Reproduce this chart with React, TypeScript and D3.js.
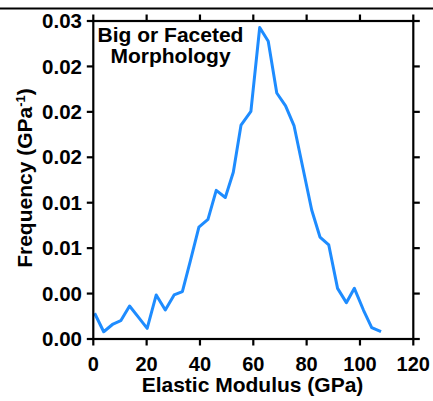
import React from "react";
import * as d3 from "d3";

const modulus = [0.5, 3.9, 7.4, 10.3, 13.6, 16.9, 20.2, 23.6, 27.0, 30.3, 33.4, 36.4, 39.6, 43.0, 46.1, 49.5, 52.5, 55.4, 59.1, 62.4, 65.6, 68.8, 72.1, 75.3, 78.6, 81.9, 85.0, 88.3, 91.6, 94.9, 97.9, 101.3, 104.4, 107.9];
const frequency = [0.00227, 0.00064, 0.00132, 0.00161, 0.00291, 0.00192, 0.00094, 0.00388, 0.00255, 0.00388, 0.00417, 0.00687, 0.00986, 0.01054, 0.01309, 0.01246, 0.01468, 0.01884, 0.02005, 0.02743, 0.02621, 0.02166, 0.02053, 0.01876, 0.01506, 0.01136, 0.00898, 0.00828, 0.00446, 0.0032, 0.00446, 0.00255, 0.00101, 0.00064];
const xTicks = [0, 20, 40, 60, 80, 100, 120];
const yTickValues = [0, 0.004, 0.008, 0.012, 0.016, 0.02, 0.024, 0.028];

const W = 433, H = 401;
const L = 93.3, R = 413.3, T = 21, B = 339;
const FONT = "'Liberation Sans', Arial, sans-serif";

export default function App() {
  const x = d3.scaleLinear().domain([0, 120]).range([L, R]);
  const y = d3.scaleLinear().domain([0, 0.028]).range([B, T]);
  const fmt = d3.format(".2f");
  const pts: [number, number][] = modulus.map((m, i) => [m, frequency[i]]);
  const line = d3.line<[number, number]>().x(d => x(d[0])).y(d => y(d[1]));
  const tk = 6.5;
  return (
    <svg width={W} height={H} style={{ position: "absolute", left: 0, top: 0, background: "#fff" }}>
      <line x1={0} x2={W} y1={8.5} y2={8.5} stroke="#000" strokeWidth={2.2} />
      <path d={line(pts) || ""} fill="none" stroke="#1E8CFF" strokeWidth={3} strokeLinejoin="round" />
      <rect x={L} y={T} width={R - L} height={B - T} fill="none" stroke="#000" strokeWidth={2.2} />
      {xTicks.map(t => (
        <g key={"x" + t}>
          <line x1={x(t)} x2={x(t)} y1={B} y2={B + tk} stroke="#000" strokeWidth={2.2} />
          <line x1={x(t)} x2={x(t)} y1={T} y2={T - tk} stroke="#000" strokeWidth={2.2} />
          <text x={x(t)} y={370.5} textAnchor="middle" fontFamily={FONT} fontWeight="bold" fontSize={20}>{t}</text>
        </g>
      ))}
      {yTickValues.map((v, i) => (
        <g key={"y" + i}>
          <line x1={L} x2={L - tk} y1={y(v)} y2={y(v)} stroke="#000" strokeWidth={2.2} />
          <line x1={R} x2={R + tk} y1={y(v)} y2={y(v)} stroke="#000" strokeWidth={2.2} />
          <text x={82} y={y(v)} dy="0.35em" textAnchor="end" fontFamily={FONT} fontWeight="bold" fontSize={20.5}>{fmt(v)}</text>
        </g>
      ))}
      <text x={252.5} y={392} textAnchor="middle" fontFamily={FONT} fontWeight="bold" fontSize={21}>Elastic Modulus (GPa)</text>
      <text transform="translate(32,178) rotate(-90)" textAnchor="middle" fontFamily={FONT} fontWeight="bold" fontSize={21}>
        Frequency (GPa<tspan baselineShift="super" fontSize={13}>-1</tspan>)
      </text>
      <text x={170.5} y={42.3} textAnchor="middle" fontFamily={FONT} fontWeight="bold" fontSize={21}>Big or Faceted</text>
      <text x={170.5} y={63.3} textAnchor="middle" fontFamily={FONT} fontWeight="bold" fontSize={21}>Morphology</text>
    </svg>
  );
}
